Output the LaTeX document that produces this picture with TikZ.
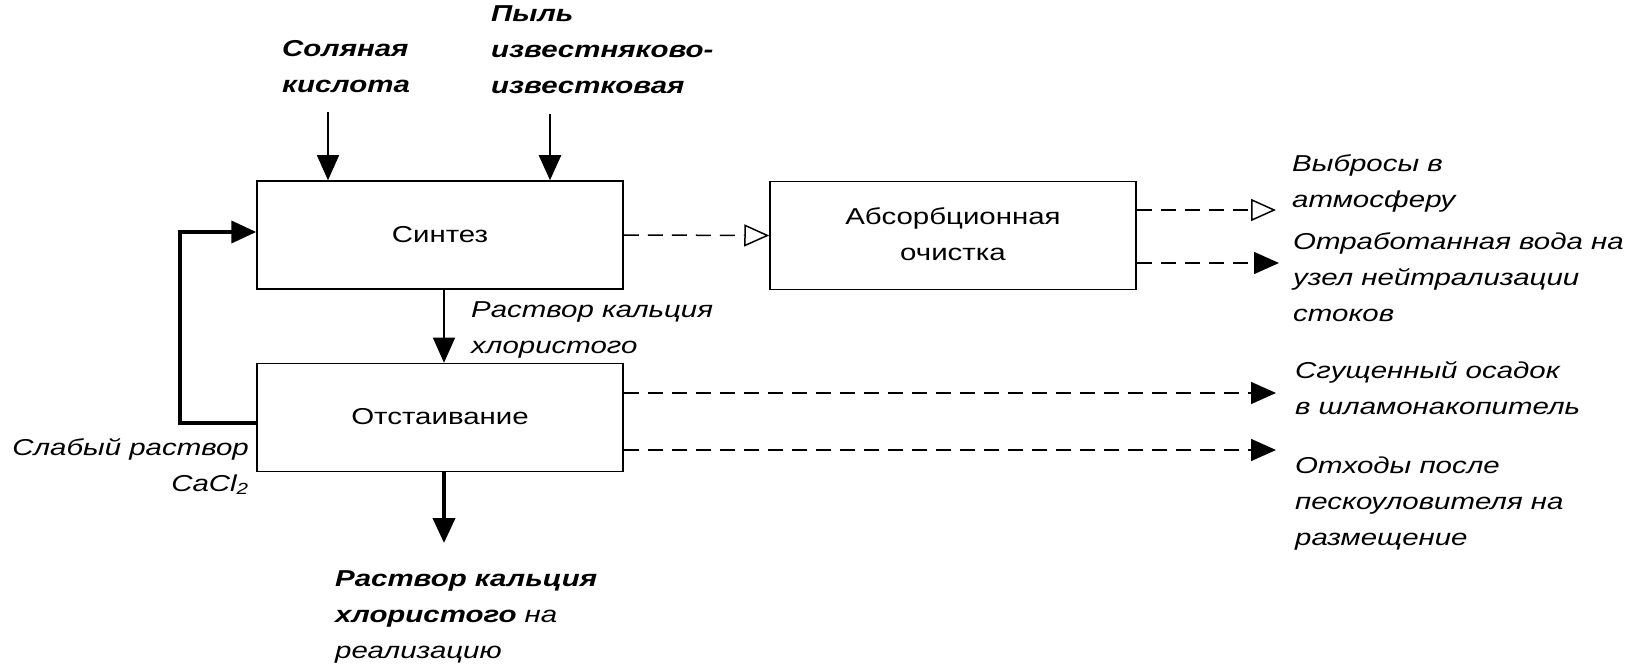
\documentclass[tikz,border=0pt]{standalone}
\usepackage{graphicx}
\usepackage{fontspec}
\setmainfont{Liberation Sans}
\usetikzlibrary{arrows.meta}
\newcommand{\hstretch}[1]{\scalebox{1.28}[1]{#1}}
\newcommand{\labfont}{\fontsize{23}{36}\selectfont}
\newcommand{\ltab}[1]{\hstretch{\begin{tabular}[t]{@{}l@{}}#1\end{tabular}}}
\newcommand{\rtab}[1]{\hstretch{\begin{tabular}[t]{@{}r@{}}#1\end{tabular}}}
\newcommand{\ctab}[1]{\hstretch{\begin{tabular}{@{}c@{}}#1\end{tabular}}}
\begin{document}
\begin{tikzpicture}[x=1pt,y=-1pt,
  procbox/.style={draw, line width=1.5pt, minimum width=366pt, minimum height=108pt, inner sep=0pt, font=\labfont},
  lab/.style={inner sep=0pt, font=\labfont\itshape},
  blab/.style={inner sep=0pt, font=\labfont\itshape\bfseries},
  fil/.style={-{Triangle[length=25pt,width=22pt]}},
  opn/.style={-{Triangle[open,length=25pt,width=22pt,line width=1.5pt]}},
  dsh/.style={line width=1.5pt, dash pattern=on 15pt off 9pt},
  thinln/.style={line width=1.2pt},
  midln/.style={line width=2.5pt},
  thickln/.style={line width=4pt}]
\useasboundingbox (0,0) rectangle (1642,668);

% boxes
\node[procbox] (syn) at (440,235) {\ctab{Синтез}};
\node[procbox] (abs) at (953,235.5) {\ctab{Абсорбционная\\очистка}};
\node[procbox] (ots) at (440,417.5) {\ctab{Отстаивание}};

% free ends
\coordinate (s1) at (328,112);
\coordinate (s2) at (550,114);
\coordinate (la) at (180,423);
\coordinate (lb) at (180,232);
\coordinate (mid) at (444,300);
\coordinate (bot) at (444,543);
\coordinate (o1) at (1276,210);
\coordinate (o2) at (1279,263);
\coordinate (o3) at (1276,393);
\coordinate (o4) at (1276,450);

% labels
\node[blab, anchor=base west] (lhcl) at (282,57) {\ltab{Соляная\\кислота}};
\node[blab, anchor=base west] (ldust) at (491,22) {\ltab{Пыль\\известняково-\\известковая}};
\node[lab, anchor=base west] (lsol) at (471,318) {\ltab{Раствор кальция\\хлористого}};
\node[lab, anchor=base east] (lweak) at (249,455) {\rtab{Слабый раствор\\CaCl\textsubscript{2}}};
\node[lab, anchor=base west] (lprod) at (335,586) {\ltab{\textbf{Раствор кальция}\\\textbf{хлористого} на\\реализацию}};
\node[lab, anchor=base west] (lair) at (1292,172) {\ltab{Выбросы в\\атмосферу}};
\node[lab, anchor=base west] (lwater) at (1293,250) {\ltab{Отработанная вода на\\узел нейтрализации\\стоков}};
\node[lab, anchor=base west] (lsludge) at (1295,378) {\ltab{Сгущенный осадок\\в шламонакопитель}};
\node[lab, anchor=base west] (lwaste) at (1295,473) {\ltab{Отходы после\\пескоуловителя на\\размещение}};

% connectors
\draw[thinln, fil] (s1) -- (s1 |- syn.north);
\draw[midln, fil] (s2) -- (s2 |- syn.north);
\draw[thickln, fil] (ots.west |- la) -- (la) -- (lb) -- (syn.west |- lb);
\draw[thinln, fil] (syn.south -| mid) -- (ots.north -| mid);
\draw[thickln, fil] (ots.south -| bot) -- (bot);
\draw[dsh, opn] (syn.east) -- (abs.west);
\draw[dsh, opn] (abs.east |- o1) -- (o1);
\draw[dsh, fil] (abs.east |- o2) -- (o2);
\draw[dsh, fil] (ots.east |- o3) -- (o3);
\draw[dsh, fil] (ots.east |- o4) -- (o4);
\end{tikzpicture}
\end{document}
